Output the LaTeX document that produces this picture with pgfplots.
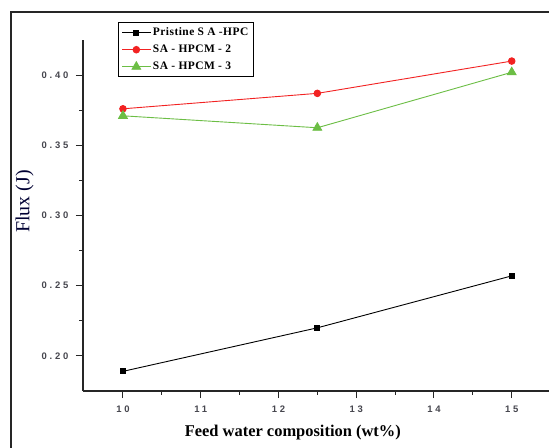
\documentclass[border=0pt]{standalone}
\usepackage{fontspec}
\setmainfont{Liberation Serif}
\newfontfamily\tickfont[LetterSpace=30]{Liberation Sans}
\newfontfamily\legfont[LetterSpace=4]{Liberation Serif}
\usepackage{pgfplots}
\pgfplotsset{compat=1.18}
\definecolor{myred}{HTML}{F22222}
\definecolor{mygreen}{HTML}{6CBE45}
\definecolor{ticktext}{HTML}{46464E}
\begin{document}
\begin{tikzpicture}
\useasboundingbox (0,0) rectangle (549bp,-448bp);
\clip (0,0) rectangle (549bp,-448bp);
\fill[white] (0,0) rectangle (549bp,-448bp);
\draw[line width=1.8bp, black!85] (11bp,-12bp) rectangle (570bp,-470bp);
\begin{axis}[
  at={(83bp,-391bp)}, anchor=south west,
  scale only axis,
  width=467.6bp, height=351bp,
  xmin=9.486, xmax=15.5,
  ymin=0.175, ymax=0.425,
  axis x line*=bottom, axis y line*=left,
  axis line style={-, line width=1.1bp, black!85},
  xtick={10,11,12,13,14,15},
  ytick={0.20,0.25,0.30,0.35,0.40},
  minor x tick num=1, minor y tick num=1,
  tick align=outside,
  major tick length=7bp, minor tick length=3.5bp,
  tick style={line width=1bp, black!85},
  /pgf/number format/assume math mode=true,
  /pgf/number format/fixed, /pgf/number format/fixed zerofill,
  /pgf/number format/precision=2,
  xticklabel={\pgfmathprintnumber[fixed,precision=0]{\tick}},
  tick label style={font=\tickfont\bfseries\fontsize{9.5}{11}\selectfont, text=ticktext},
  yticklabel style={xshift=-4bp},
  xticklabel style={yshift=-4bp},
  xlabel={\textbf{Feed water composition (wt\%)}},
  ylabel={Flux (J)},
  xlabel style={font=\fontsize{16.5}{18}\selectfont, yshift=-6bp, xshift=-24bp},
  ylabel style={font=\fontsize{20}{22}\selectfont, text=black!80!blue, at={(ticklabel cs:0.54)}, yshift=1bp},
  legend style={at={(0.075,1.051)}, anchor=north west, draw=black, line width=1.3bp,
    font=\legfont\bfseries\fontsize{11.5}{12}\selectfont, row sep=4bp, inner sep=3bp,
    cells={anchor=west}},
  legend image code/.code={\draw[mark repeat=2,mark phase=2] plot coordinates {(0cm,0cm) (0.5cm,0cm) (1cm,0cm)};},
]
\addplot[black, line width=0.9bp, mark=square*, mark size=2.5bp, mark options={solid}] coordinates {(10,0.189) (12.5,0.220) (15,0.257)};
\addlegendentry{Pristine S A -HPC}
\addplot[myred, line width=0.9bp, mark=*, mark size=3.3bp] coordinates {(10,0.376) (12.5,0.387) (15,0.410)};
\addlegendentry{SA - HPCM - 2}
\addplot[mygreen, line width=0.9bp, mark=triangle*, mark size=5bp] coordinates {(10,0.371) (12.5,0.3625) (15,0.402)};
\addlegendentry{SA - HPCM - 3}
\end{axis}
\end{tikzpicture}
\end{document}
